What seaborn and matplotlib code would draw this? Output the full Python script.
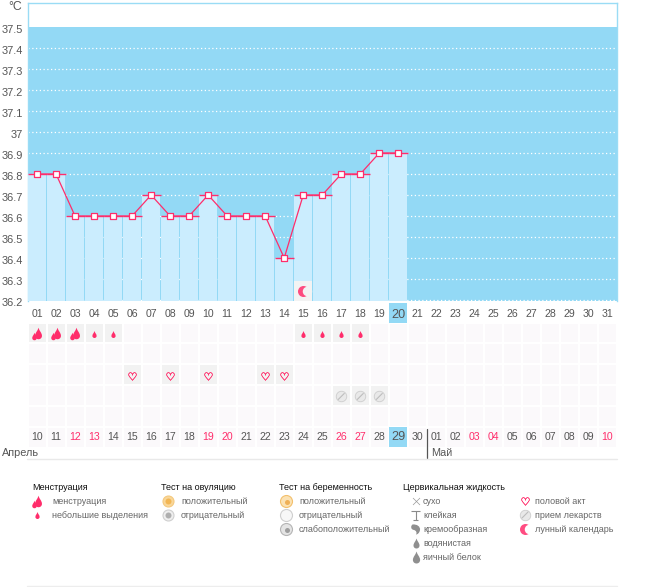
import numpy as np
import pandas as pd
import matplotlib
matplotlib.use("Agg")
import matplotlib.pyplot as plt
from matplotlib.colors import ListedColormap
from matplotlib.path import Path
from matplotlib.patches import Rectangle
from matplotlib.transforms import ScaledTranslation
import seaborn as sns

# ---------- data ----------
cycle_days = ["01","02","03","04","05","06","07","08","09","10","11","12","13","14","15","16",
              "17","18","19","20","21","22","23","24","25","26","27","28","29","30","31"]
calendar_dates = ["10","11","12","13","14","15","16","17","18","19","20","21","22","23","24","25",
                  "26","27","28","29","30","01","02","03","04","05","06","07","08","09","10"]
weekend_idx = [2,3,9,10,16,17,23,24,30]
temps = [36.8,36.8,36.6,36.6,36.6,36.6,36.7,36.6,36.6,36.7,36.6,36.6,36.6,36.4,36.7,36.7,36.8,36.8,36.9,36.9]
y_ticks = [36.2,36.3,36.4,36.5,36.6,36.7,36.8,36.9,37.0,37.1,37.2,37.3,37.4,37.5]
y_labels = ["36.2","36.3","36.4","36.5","36.6","36.7","36.8","36.9","37","37.1","37.2","37.3","37.4","37.5"]
heavy_days = [1,2,3]
light_days = [4,5,15,16,17,18]
sex_days = [6,8,10,13,14]
pill_days = [17,18,19]
moon_day = 15
today = 20
today_date_idx = 19
legend_headers = ["Менструация","Тест на овуляцию","Тест на беременность","Цервикальная жидкость"]
col_menses = ["менструация","небольшие выделения"]
col_ovul = ["положительный","отрицательный"]
col_preg = ["положительный","отрицательный","слабоположительный"]
col_fluid = ["сухо","клейкая","кремообразная","водянистая","яичный белок"]
col_other = ["половой акт","прием лекарств","лунный календарь"]

# ---------- style ----------
W, H = 655, 587
PINK = "#FF2D6B"; SKY = "#93D9F5"; BAR = "#CBEDFE"; TXT = "#555555"
sns.set_theme(style="white")
plt.rcParams["font.family"] = ["Liberation Sans", "DejaVu Sans"]
FS = 7.6
LFS = 6.45
fig = plt.figure(figsize=(W/100, H/100), dpi=100, facecolor="white")
def px_axes(x0, y0, x1, y1, **kw):
    return fig.add_axes([x0/W, 1-y1/H, (x1-x0)/W, (y1-y0)/H], **kw)
def sz(d):
    return (d*0.72)**2

# shapes
DROP = Path([(0,1),(0.15,0.45),(0.6,0.1),(0.6,-0.4),(0.6,-0.8),(0.3,-1),(0,-1),(-0.3,-1),(-0.6,-0.8),(-0.6,-0.4),(-0.6,0.1),(-0.15,0.45),(0,1)],
            [1,4,4,4,4,4,4,4,4,4,4,4,4])
TBAR = Path([(-1,1),(1,1),(0,1),(0,-1),(-0.6,-1),(0.6,-1)],[1,2,1,2,1,2])
COMMA = Path([(-0.6,1),(0.3,1.1),(1,0.6),(0.9,-0.1),(0.8,-0.7),(0.4,-1),(0.1,-1),(0.35,-0.6),(0.1,-0.2),(-0.3,-0.1),(-1,0),(-1,0.7),(-0.6,1)],
             [1,4,4,4,4,4,4,4,4,4,4,4,4])
def heavy(ax, x, y, dx, dy, z=5):
    ax.scatter([x+dx*1],[y+dy*(-0.5)],s=sz(11.5),marker=DROP,color=PINK,lw=0,zorder=z)
    ax.scatter([x-dx*3],[y+dy*2.5],s=sz(7.5),marker=DROP,color=PINK,lw=0,zorder=z)
def light(ax, x, y, z=5):
    ax.scatter([x],[y],s=sz(7),marker=DROP,color=PINK,lw=0,zorder=z)
def heart(ax, x, y, z=5):
    ax.scatter([x],[y],s=sz(8),marker="$♡$",color=PINK,lw=0.3,zorder=z)
def pill(ax, x, y, dx, dy, z=5):
    ax.scatter([x],[y],s=sz(10.5),color="#E9E9E9",edgecolor="#CDCDCD",lw=0.6,zorder=z)
    ax.plot([x-3*dx,x+3*dx],[y-3*dy,y+3*dy],color="#BDBDBD",lw=0.8,zorder=z+1)
def moon(ax, x, y, dx, bg, z=5):
    ax.scatter([x],[y],s=sz(11),color=PINK,alpha=0.85,lw=0,zorder=z)
    ax.scatter([x+3.5*dx],[y],s=sz(9.5),color=bg,lw=0,zorder=z+1)

# ---------- main chart ----------
ax = px_axes(27.5, 3, 617, 301)
day_idx = np.arange(len(temps))
frame = pd.DataFrame({"day": cycle_days[:len(temps)], "idx": day_idx, "temp": temps})
sns.barplot(data=frame, x="day", y="temp", order=cycle_days, color=BAR, saturation=1,
            width=18/19, ax=ax, zorder=3, edgecolor="none", linewidth=0)
PER_PX = 0.1/21.0
Y_LOW = 36.2-1.0*PER_PX
ax.set_xlim(-0.5, 30.5)
ax.set_ylim(Y_LOW, Y_LOW+298*PER_PX)
ax.axhspan(Y_LOW, 37.5, color=SKY, lw=0, zorder=0)
for v in y_ticks[:-1]:
    ax.axhline(v, color="white", lw=0.9, ls=(0,(1,2)), zorder=1)
tops = ax.hlines(temps, day_idx-0.5, day_idx+0.5, color=PINK, lw=1.0, zorder=4)
tops.set_snap(True)
sns.lineplot(data=frame, x="idx", y="temp", color=PINK, lw=0.9, ax=ax, zorder=5, errorbar=None)
ax.scatter(day_idx, temps, s=sz(6), marker="s", facecolor="white", edgecolor=PINK, lw=0.9, zorder=6)
ax.add_patch(Rectangle((moon_day-1-0.47, Y_LOW), 0.94, 20*PER_PX, color="#F3F3F3", lw=0, zorder=4))
moon(ax, moon_day-1, Y_LOW+10.5*PER_PX, 1/19, "#F3F3F3", z=5)
ax.add_patch(Rectangle((today-1-0.47, Y_LOW-22*PER_PX), 0.94, 20*PER_PX, color=SKY, lw=0, zorder=0.2, clip_on=False))
ax.set_xlabel(""); ax.set_ylabel("")
for s in ax.spines.values():
    s.set_color("#9ADCF5"); s.set_linewidth(1)
ax.spines["bottom"].set_visible(False)
ax.set_yticks(y_ticks, y_labels)
ax.tick_params(axis="y", length=0, pad=3.5, labelsize=FS+0.3, labelcolor=TXT)
off = ScaledTranslation(0, -2/72*0.72, fig.dpi_scale_trans)
for t in ax.get_yticklabels():
    t.set_transform(t.get_transform()+off)
ax.set_xticks(range(31), cycle_days)
ax.tick_params(axis="x", length=0, pad=5.5, labelsize=FS, labelcolor=TXT)
for i, t in enumerate(ax.get_xticklabels()):
    if cycle_days[i] == f"{today:02d}":
        t.set_fontsize(FS+1.5)

# ---------- calendar grid ----------
cal = px_axes(27.5, 322.5, 617, 447.5)
grid = np.zeros((6, 31))
grid[0, [d-1 for d in heavy_days+light_days]] = 1
grid[2, [d-1 for d in sex_days]] = 1
grid[3, [d-1 for d in pill_days]] = 1
sns.heatmap(grid, ax=cal, cmap=ListedColormap(["#FBF9FB", "#F2F2F2"]), vmin=0, vmax=1, cbar=False,
            linewidths=1.1, linecolor="white", xticklabels=False, yticklabels=False)
cdx = 1/19; cdy = 6/125
for d in heavy_days:
    heavy(cal, d-0.5, 0.55, cdx, cdy)
for d in light_days:
    light(cal, d-0.5, 0.55)
for d in sex_days:
    heart(cal, d-0.5, 2.55)
for d in pill_days:
    pill(cal, d-0.5, 3.55, cdx, -cdy)
cal.add_patch(Rectangle((today_date_idx+0.03, 5.03), 0.94, 0.94, color=SKY, lw=0, zorder=4))
for i, lab in enumerate(calendar_dates):
    big = i == today_date_idx
    cal.text(i+0.5, 5.52, lab, ha="center", va="center", zorder=5,
             fontsize=FS+1.5 if big else FS, color=PINK if i in weekend_idx else TXT)

# ---------- overlay: labels and legend ----------
ov = px_axes(0, 0, W, H)
ov.set_xlim(0, W); ov.set_ylim(H, 0); ov.axis("off"); ov.patch.set_alpha(0)
ov.text(8, 7, "°C", fontsize=FS+1.2, color=TXT, va="center")
ov.text(2, 453, "Апрель", fontsize=FS+0.2, color=TXT, va="center")
ov.text(431, 452.5, "Май", fontsize=FS+0.2, color=TXT, va="center")
ov.plot([426.5, 426.5], [429, 458], color="#555555", lw=0.9)
ov.plot([27, 617], [458.5, 458.5], color="#E9E9E9", lw=1)
ov.plot([27, 617], [586, 586], color="#EDEDED", lw=1)

HDR_Y = 487; ROW0 = 501; PITCH = 14
header_x = [32, 161, 279, 403]
for x, h in zip(header_x, legend_headers):
    ov.text(x, HDR_Y, h, fontsize=LFS, color="#111111", va="center")
def rows(x, labels):
    for i, l in enumerate(labels):
        ov.text(x, ROW0+PITCH*i, l, fontsize=LFS, color="#666666", va="center")
rows(52, col_menses); rows(181, col_ovul); rows(299, col_preg); rows(423, col_fluid); rows(535, col_other)

# legend glyphs
heavy(ov, 37, ROW0, 1, 1)
light(ov, 37, ROW0+PITCH)
ov.scatter([167.5],[ROW0],s=sz(11),color="#F9D79A",edgecolor="#F4C97E",lw=0.8)
ov.scatter([167.5],[ROW0],s=sz(6),color="#F2B654",lw=0)
ov.scatter([167.5],[ROW0+PITCH],s=sz(11),color="#EFEFEF",edgecolor="#CFCFCF",lw=0.8)
ov.scatter([167.5],[ROW0+PITCH],s=sz(6),color="#AFAFAF",lw=0)
ov.scatter([286],[ROW0],s=sz(12),color="#FBE2B4",edgecolor="#F3C06C",lw=0.8)
ov.scatter([286.5],[ROW0+0.5],s=sz(5),color="#EFB057",lw=0)
ov.scatter([286],[ROW0+PITCH],s=sz(12),color="#F7F7F7",edgecolor="#CFCFCF",lw=0.8)
ov.scatter([286],[ROW0+2*PITCH],s=sz(12),color="#E4E4E4",edgecolor="#B5B5B5",lw=0.8)
ov.scatter([286.5],[ROW0+2*PITCH+0.5],s=sz(5),color="#9E9E9E",lw=0)
ov.scatter([415.5],[ROW0],s=sz(7),marker="x",color="#9A9A9A",lw=0.5)
ov.scatter([415.5],[ROW0+PITCH],s=sz(9),marker=TBAR,facecolor="none",edgecolor="#8A8A8A",lw=0.8)
ov.scatter([415],[ROW0+2*PITCH],s=sz(11),marker=COMMA,color="#8F8F8F",lw=0)
ov.scatter([415.5],[ROW0+3*PITCH],s=sz(10),marker=DROP,color="#8F8F8F",lw=0)
ov.scatter([415.5],[ROW0+4*PITCH],s=sz(12),marker=DROP,color="#8F8F8F",lw=0)
heart(ov, 525, ROW0)
pill(ov, 525, ROW0+PITCH, 1, -1)
moon(ov, 525, ROW0+2*PITCH, 1, "white")

fig.savefig("out.png", dpi=100, facecolor="white")
